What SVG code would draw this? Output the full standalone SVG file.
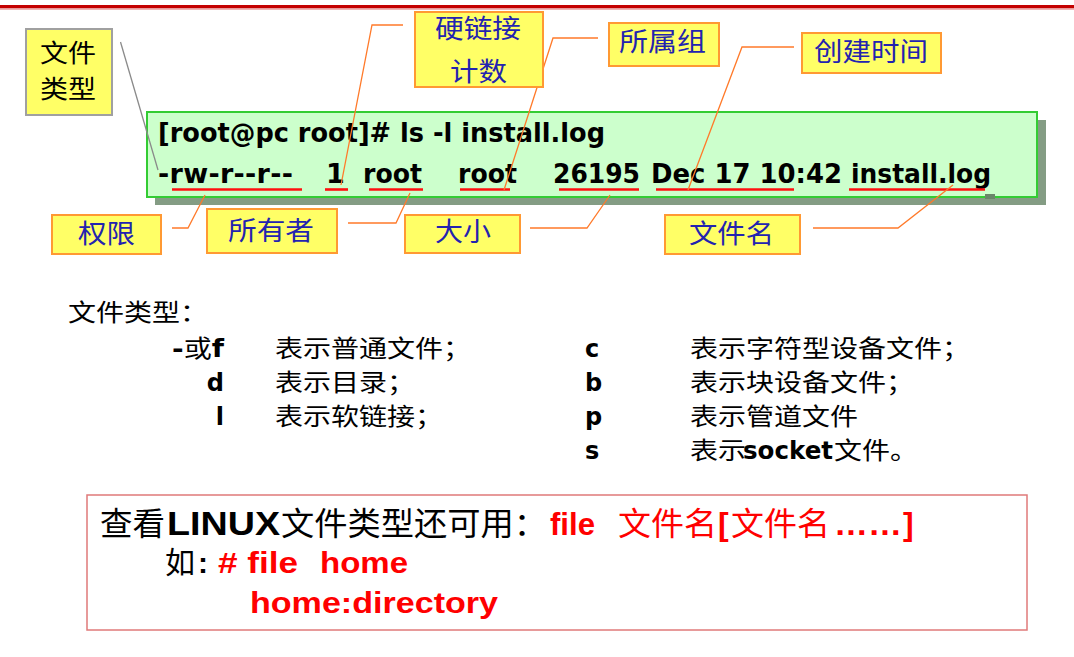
<svg xmlns="http://www.w3.org/2000/svg" width="1074" height="657" viewBox="0 0 1074 657">
  <style>
    .cjk { font-family: "Noto Sans CJK SC", sans-serif; }
    .tah { font-family: "DejaVu Sans", "Noto Sans CJK SC", sans-serif; font-weight: bold; }
    .ari { font-family: "Liberation Sans", "Noto Sans CJK SC", sans-serif; font-weight: bold; }
    .tag rect { fill: #ffff66; stroke: #ff9933; stroke-width: 2; }
    .tag text { fill: #2323b0; font-size: 26px; font-family: "Noto Sans CJK SC", sans-serif; }
    .conn path { fill: none; stroke: #ff7a2a; stroke-width: 1.3; }
    .ul line { stroke: #ff1010; stroke-width: 2.6; }
    .red { fill: #ff0000; }
  </style>

  <!-- page header rule -->
  <rect x="0" y="5" width="1074" height="3.5" fill="#c40000"/>
  <rect x="0" y="8.5" width="1074" height="1.5" fill="#f0b4b4"/>

  <!-- terminal output panel -->
  <g id="terminal">
    <rect x="155" y="120" width="891" height="85" fill="#849c84"/>
    <rect x="147" y="112" width="890" height="85" fill="#ccffcc" stroke="#33cc33" stroke-width="2"/>
    <rect x="985" y="194" width="10" height="5" fill="#6a866a"/>
    <g class="tah" font-size="27" fill="#000">
      <text x="158" y="142" textLength="447" lengthAdjust="spacingAndGlyphs">[root@pc root]# ls -l install.log</text>
      <text x="158" y="183" textLength="135" lengthAdjust="spacing">-rw-r--r--</text>
      <text x="326" y="183">1</text>
      <text x="363" y="183" textLength="59" lengthAdjust="spacingAndGlyphs">root</text>
      <text x="458" y="183" textLength="59" lengthAdjust="spacingAndGlyphs">root</text>
      <text x="553" y="183" textLength="87" lengthAdjust="spacingAndGlyphs">26195</text>
      <text x="651" y="183" textLength="191" lengthAdjust="spacingAndGlyphs">Dec 17 10:42</text>
      <text x="851" y="183" textLength="140" lengthAdjust="spacingAndGlyphs">install.log</text>
    </g>
    <g class="ul">
      <line x1="172" y1="189.5" x2="302" y2="189.5"/>
      <line x1="325" y1="189.5" x2="348" y2="189.5"/>
      <line x1="369" y1="189.5" x2="423" y2="189.5"/>
      <line x1="460" y1="189.5" x2="510" y2="189.5"/>
      <line x1="559" y1="189.5" x2="639" y2="189.5"/>
      <line x1="656" y1="189.5" x2="794" y2="189.5"/>
      <line x1="849" y1="189.5" x2="985" y2="189.5"/>
    </g>
  </g>

  <!-- callout connectors -->
  <g id="connectors" class="conn">
    <path d="M120.5,42 L158,170" style="stroke:#8a8a8a"/>
    <path d="M403,25 L372,25 L341,185"/>
    <path d="M598,38 L553,38 L504,190"/>
    <path d="M794,47 L742,47 L688,190"/>
    <path d="M172,228 L188,228 L205,195"/>
    <path d="M348,223 L396,223 L410,193"/>
    <path d="M530,228 L587,228 L610,195"/>
    <path d="M813,228 L898,228 L953,185"/>
  </g>

  <!-- callout labels -->
  <g id="tag-type" class="tag">
    <rect x="26" y="29" width="86" height="86" style="stroke:#a0a0a0"/>
    <text x="40" y="62" textLength="56" lengthAdjust="spacingAndGlyphs" style="fill:#000;font-size:24.5px">文件</text>
    <text x="40" y="97.5" textLength="56" lengthAdjust="spacingAndGlyphs" style="fill:#000;font-size:24.5px">类型</text>
  </g>
  <g id="tag-links" class="tag">
    <rect x="415" y="12" width="128" height="75"/>
    <text x="435" y="38" textLength="86" lengthAdjust="spacingAndGlyphs">硬链接</text>
    <text x="450" y="81" textLength="57" lengthAdjust="spacingAndGlyphs">计数</text>
  </g>
  <g id="tag-group" class="tag">
    <rect x="609" y="23" width="110" height="43"/>
    <text x="619" y="51" textLength="87" lengthAdjust="spacingAndGlyphs">所属组</text>
  </g>
  <g id="tag-time" class="tag">
    <rect x="802" y="33" width="139" height="40"/>
    <text x="814" y="61" textLength="114" lengthAdjust="spacingAndGlyphs">创建时间</text>
  </g>
  <g id="tag-perm" class="tag">
    <rect x="52" y="215" width="109" height="39"/>
    <text x="78" y="243" textLength="57" lengthAdjust="spacingAndGlyphs">权限</text>
  </g>
  <g id="tag-owner" class="tag">
    <rect x="207" y="209" width="130" height="44"/>
    <text x="228" y="240" textLength="86" lengthAdjust="spacingAndGlyphs">所有者</text>
  </g>
  <g id="tag-size" class="tag">
    <rect x="405" y="215" width="115" height="38"/>
    <text x="435" y="241" textLength="56" lengthAdjust="spacingAndGlyphs">大小</text>
  </g>
  <g id="tag-name" class="tag">
    <rect x="665" y="215" width="135" height="39"/>
    <text x="689" y="243" textLength="85" lengthAdjust="spacingAndGlyphs">文件名</text>
  </g>

  <!-- file type legend -->
  <g id="legend" font-size="24" fill="#000">
    <text class="cjk" x="68" y="321" textLength="140" lengthAdjust="spacingAndGlyphs">文件类型：</text>

    <text class="tah" x="172" y="357" textLength="52" lengthAdjust="spacingAndGlyphs">-<tspan class="cjk" font-weight="normal">或</tspan>f</text>
    <text class="tah" x="224" y="391" text-anchor="end">d</text>
    <text class="tah" x="224" y="425" text-anchor="end">l</text>
    <text class="cjk" x="275" y="357" textLength="196" lengthAdjust="spacingAndGlyphs">表示普通文件；</text>
    <text class="cjk" x="275" y="391" textLength="140" lengthAdjust="spacingAndGlyphs">表示目录；</text>
    <text class="cjk" x="275" y="425" textLength="168" lengthAdjust="spacingAndGlyphs">表示软链接；</text>

    <text class="tah" x="585" y="357">c</text>
    <text class="tah" x="585" y="391">b</text>
    <text class="tah" x="585" y="425">p</text>
    <text class="tah" x="585" y="459">s</text>
    <text class="cjk" x="690" y="357" textLength="280" lengthAdjust="spacingAndGlyphs">表示字符型设备文件；</text>
    <text class="cjk" x="690" y="391" textLength="224" lengthAdjust="spacingAndGlyphs">表示块设备文件；</text>
    <text class="cjk" x="690" y="425" textLength="168" lengthAdjust="spacingAndGlyphs">表示管道文件</text>
    <text class="cjk" x="690" y="459" textLength="56" lengthAdjust="spacingAndGlyphs">表示</text>
    <text class="tah" x="743" y="459" textLength="90" lengthAdjust="spacingAndGlyphs">socket</text>
    <text class="cjk" x="834" y="459" textLength="84" lengthAdjust="spacingAndGlyphs">文件。</text>
  </g>

  <!-- file command note -->
  <g id="note">
    <rect x="87" y="495" width="940" height="135" fill="#fff" stroke="#e07a7a" stroke-width="1.5"/>
    <text class="cjk" x="100" y="535" font-size="32" fill="#000" textLength="65" lengthAdjust="spacingAndGlyphs">查看</text>
    <text class="ari" x="167" y="535" font-size="33" fill="#000" textLength="113" lengthAdjust="spacingAndGlyphs">LINUX</text>
    <text class="cjk" x="281" y="535" font-size="32" fill="#000" textLength="266" lengthAdjust="spacingAndGlyphs">文件类型还可用：</text>
    <text class="ari red" x="550" y="535" font-size="32" textLength="45" lengthAdjust="spacingAndGlyphs">file</text>
    <text class="cjk red" x="618" y="535" font-size="32" textLength="99" lengthAdjust="spacingAndGlyphs">文件名</text>
    <text class="ari red" x="718" y="535" font-size="32">[</text>
    <text class="cjk red" x="731" y="535" font-size="32" textLength="99" lengthAdjust="spacingAndGlyphs">文件名</text>
    <text class="ari red" x="834" y="535" font-size="32" textLength="68" lengthAdjust="spacingAndGlyphs">……</text>
    <text class="ari red" x="903" y="535" font-size="32">]</text>

    <text class="cjk" x="165" y="573" font-size="30" fill="#000">如</text>
    <text class="ari" x="198" y="573" font-size="30" fill="#000">:</text>
    <text class="ari red" x="218" y="573" font-size="30" textLength="80" lengthAdjust="spacingAndGlyphs"># file</text>
    <text class="ari red" x="320" y="573" font-size="30" textLength="88" lengthAdjust="spacingAndGlyphs">home</text>
    <text class="ari red" x="250" y="613" font-size="30" textLength="248" lengthAdjust="spacingAndGlyphs">home:directory</text>
  </g>
</svg>
